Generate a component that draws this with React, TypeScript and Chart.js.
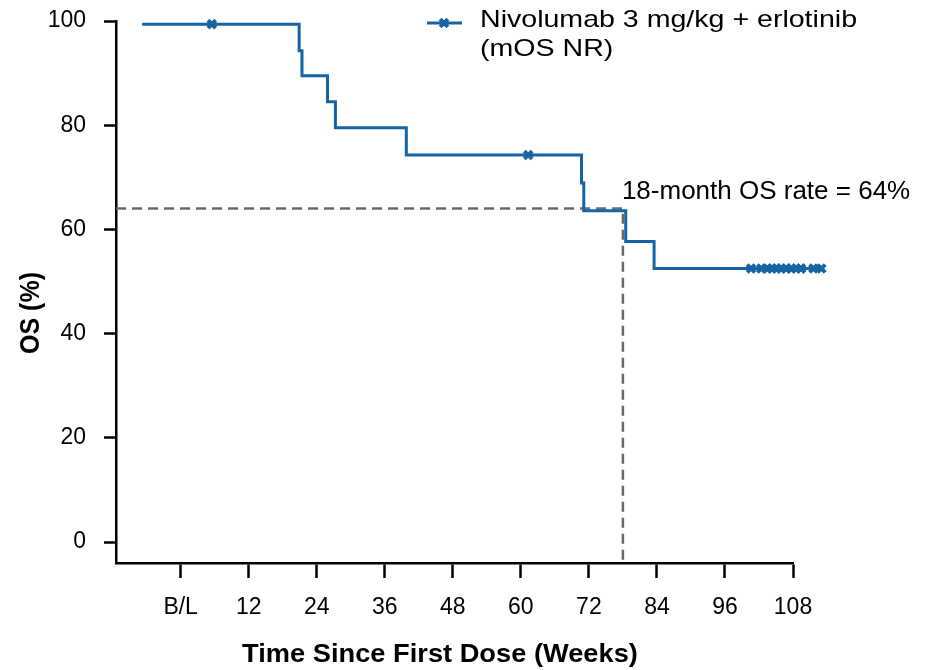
import React, { useEffect, useRef } from "react";
import { Chart, registerables } from "chart.js";

Chart.register(...registerables);

const FONT = '"Liberation Sans", Arial, Helvetica, sans-serif';
const LINE_COLOR = "#1764a5";
const DASH_COLOR = "#6f6a68";

const seriesLabelLines = ["Nivolumab 3 mg/kg + erlotinib", "(mOS NR)"];
const kmTimes = [-6.8, 20.9, 21.4, 25.9, 27.3, 39.8, 70.7, 71.1, 78.5, 83.5, 113.0];
const kmSurvival = [99.4, 94.3, 89.5, 84.5, 79.5, 74.3, 68.9, 63.6, 57.7, 52.5, 52.5];
const censorTimes = [5.5, 61.3, 100.6, 102.4, 103.5, 104.3, 105.1, 105.9, 106.8, 107.7, 109.4, 111.6, 113.0];
const censorSurvival = [99.4, 74.3, 52.5, 52.5, 52.5, 52.5, 52.5, 52.5, 52.5, 52.5, 52.5, 52.5, 52.5];
const xTickValues = [0, 12, 24, 36, 48, 60, 72, 84, 96, 108];
const xTickLabels = ["B/L", "12", "24", "36", "48", "60", "72", "84", "96", "108"];
const yTickValues = [0, 20, 40, 60, 80, 100];
const xRange = [-11.4, 108];
const yRange = [-4, 100];
const landmarkWeek = 78;
const landmarkRate = 64;
const annotationText = "18-month OS rate = 64%";
const xTitle = "Time Since First Dose (Weeks)";
const yTitle = "OS (%)";

const outsidePointsPlugin = {
  id: "outsidePoints",
  afterDatasetsDraw(chart: any) {
    const ctx = chart.ctx;
    const right = chart.chartArea.right;
    const meta = chart.getDatasetMeta(1);
    const big = { left: -1e5, right: 1e5, top: -1e5, bottom: 1e5 };
    ctx.save();
    meta.data.forEach((el: any) => {
      if (el.x > right - 6) el.draw(ctx, big);
    });
    ctx.restore();
  },
};

const textPlugin = {
  id: "customText",
  afterDraw(chart: any) {
    const ctx = chart.ctx;
    const xs = chart.scales.x;
    const ys = chart.scales.y;
    ctx.save();
    ctx.fillStyle = "#000";
    // x axis title
    ctx.save();
    ctx.translate(440, 655);
    ctx.scale(1.09, 1);
    ctx.font = `bold 25px ${FONT}`;
    ctx.textAlign = "center";
    ctx.textBaseline = "middle";
    ctx.fillText(xTitle, 0, 0);
    ctx.restore();
    // y axis title
    ctx.save();
    ctx.translate(31, 313);
    ctx.scale(1.12, 1);
    ctx.rotate(-Math.PI / 2);
    ctx.font = `bold 25px ${FONT}`;
    ctx.textAlign = "center";
    ctx.textBaseline = "middle";
    ctx.fillText(yTitle, 0, 0);
    ctx.restore();
    // annotation
    ctx.font = `26px ${FONT}`;
    ctx.textAlign = "left";
    ctx.textBaseline = "alphabetic";
    ctx.fillText(annotationText, xs.getPixelForValue(landmarkWeek) - 1, ys.getPixelForValue(landmarkRate) - 10);
    // legend
    ctx.strokeStyle = LINE_COLOR;
    ctx.lineWidth = 3;
    ctx.beginPath();
    ctx.moveTo(427, 23);
    ctx.lineTo(462, 23);
    ctx.stroke();
    ctx.lineWidth = 4;
    const r = 5.5 * Math.SQRT1_2;
    ctx.beginPath();
    ctx.moveTo(444 - r, 23 - r);
    ctx.lineTo(444 + r, 23 + r);
    ctx.moveTo(444 - r, 23 + r);
    ctx.lineTo(444 + r, 23 - r);
    ctx.stroke();
    ctx.save();
    ctx.translate(480, 0);
    ctx.scale(1.19, 1);
    ctx.font = `24px ${FONT}`;
    ctx.fillText(seriesLabelLines[0], 0, 27);
    ctx.fillText(seriesLabelLines[1], 0, 56);
    ctx.restore();
    ctx.restore();
  },
};

export default function App() {
  const ref = useRef<HTMLCanvasElement>(null);
  useEffect(() => {
    if (!ref.current) return;
    const kmData = kmTimes.map((t, i) => ({ x: t, y: kmSurvival[i] }));
    const censorData = censorTimes.map((t, i) => ({ x: t, y: censorSurvival[i] }));
    const dashData = [
      { x: xRange[0], y: landmarkRate },
      { x: landmarkWeek, y: landmarkRate },
      { x: landmarkWeek, y: yRange[0] },
    ];
    const chart = new Chart(ref.current, {
      type: "line",
      data: {
        datasets: [
          {
            data: kmData,
            borderColor: LINE_COLOR,
            borderWidth: 3,
            stepped: "before",
            pointRadius: 0,
            fill: false,
            clip: false as any,
          },
          {
            data: censorData,
            showLine: false,
            pointStyle: "crossRot",
            pointRadius: 5.5,
            pointBorderWidth: 4,
            pointBorderColor: LINE_COLOR,
            pointBackgroundColor: LINE_COLOR,
            clip: false as any,
          },
          {
            data: dashData,
            borderColor: DASH_COLOR,
            borderWidth: 2.5,
            borderDash: [10, 6],
            pointRadius: 0,
            fill: false,
          },
        ],
      },
      options: {
        responsive: false,
        animation: false,
        events: [],
        layout: { padding: { top: 21, right: 137, left: 0, bottom: 0 } },
        plugins: { legend: { display: false }, tooltip: { enabled: false } },
        scales: {
          x: {
            type: "linear",
            bounds: "data",
            afterDataLimits: (s: any) => {
              s.min = xRange[0];
              s.max = xRange[1];
            },
            afterBuildTicks: (s: any) => {
              s.ticks = xTickValues.map((v) => ({ value: v }));
            },
            afterFit: (s: any) => {
              s.height = 107;
              s.paddingLeft = 0;
              s.paddingRight = 0;
            },
            grid: { drawOnChartArea: false, drawTicks: true, tickLength: 15, tickWidth: 2.5, tickColor: "#000" },
            border: { display: true, color: "#000", width: 2.5 },
            ticks: {
              color: "#000",
              padding: 16,
              maxRotation: 0,
              autoSkip: false,
              font: { family: FONT, size: 23 },
              callback: (v: any) => {
                const i = xTickValues.indexOf(v);
                return i >= 0 ? xTickLabels[i] : "";
              },
            },
          },
          y: {
            type: "linear",
            bounds: "data",
            afterDataLimits: (s: any) => {
              s.min = yRange[0];
              s.max = yRange[1];
            },
            afterBuildTicks: (s: any) => {
              s.ticks = yTickValues.map((v) => ({ value: v }));
            },
            afterFit: (s: any) => {
              s.width = 116;
              s.paddingTop = 0;
              s.paddingBottom = 0;
            },
            grid: { drawOnChartArea: false, drawTicks: true, tickLength: 12, tickWidth: 2.5, tickColor: "#000" },
            border: { display: true, color: "#000", width: 2.5 },
            ticks: {
              color: "#000",
              padding: 18,
              font: { family: FONT, size: 23 },
              callback: (v: any) => String(v),
            },
          },
        },
      },
      plugins: [outsidePointsPlugin, textPlugin],
    });
    return () => chart.destroy();
  }, []);
  return (
    <div style={{ position: "fixed", left: 0, top: 0, width: 930, height: 670, background: "#fff" }}>
      <canvas ref={ref} width={930} height={670} style={{ display: "block" }} />
    </div>
  );
}
